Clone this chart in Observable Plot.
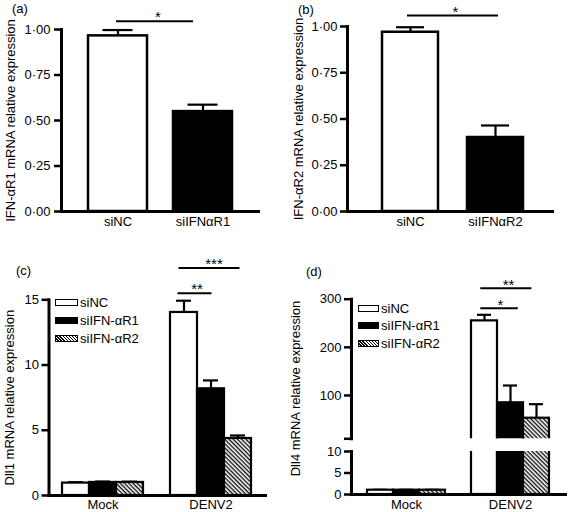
<!DOCTYPE html>
<html>
<head>
<meta charset="utf-8">
<script src="https://cdn.jsdelivr.net/npm/d3@7"></script>
<script src="https://cdn.jsdelivr.net/npm/@observablehq/plot@0.6"></script>
<style>
  html, body { margin: 0; padding: 0; background: #fff; }
  #fig { position: relative; width: 568px; height: 512px; overflow: hidden; background: #fff;
         font-family: "Liberation Sans", Arial, Helvetica, sans-serif; color: #000; }
  .plabel { position: absolute; font-size: 13px; line-height: 16px; }
  .lrow { position: absolute; height: 16px; display: flex; align-items: center; font-size: 13px; white-space: nowrap; }
  .sw { box-sizing: border-box; border: 1.5px solid #000; margin-right: 2px; }
</style>
</head>
<body>
<svg width="0" height="0" style="position:absolute">
  <defs>
    <pattern id="hatch" patternUnits="userSpaceOnUse" width="3" height="3" patternTransform="rotate(45)">
      <rect width="3" height="3" fill="white"></rect>
      <line x1="0" y1="0.7" x2="3" y2="0.7" stroke="black" stroke-width="1.3"></line>
    </pattern>
  </defs>
</svg>
<div id="fig"></div>
<script>
// ---------------- data ----------------
const groupsA = ["siNC", "siIFNαR1"];
const meanA = [0.965, 0.549];
const errA = [0.032, 0.038];

const groupsB = ["siNC", "siIFNαR2"];
const meanB = [0.969, 0.40];
const errB = [0.027, 0.065];

const conditions = ["Mock", "DENV2"];
const treatments = ["siNC", "siIFN-αR1", "siIFN-αR2"];

const dll1Mock = [0.95, 1.0, 1.0];
const dll1MockErr = [0.07, 0.07, 0.06];
const dll1Denv = [14.03, 8.18, 4.37];
const dll1DenvErr = [0.9, 0.64, 0.23];

const dll4Mock = [1.0, 1.0, 1.0];
const dll4MockErr = [0.1, 0.1, 0.1];
const dll4Denv = [255, 84.8, 52.8];
const dll4DenvErr = [12.6, 35.9, 29.1];

const ticksAB = [0, 0.25, 0.5, 0.75, 1];
const ticksC = [0, 5, 10, 15];
const ticksDUpper = [10, 100, 200, 300];
const ticksDLower = [0, 5, 10];

const sigA = [{from: "siNC", to: "siIFNαR1", y: 1.046, label: "*"}];
const sigB = [{from: "siNC", to: "siIFNαR2", y: 1.059, label: "*"}];
const sigC = [
  {from: "DENV2|siNC", to: "DENV2|siIFN-αR1", y: 15.51, label: "**"},
  {from: "DENV2|siNC", to: "DENV2|siIFN-αR2", y: 17.43, label: "***"}
];
const sigD = [
  {from: "DENV2|siNC", to: "DENV2|siIFN-αR1", y: 281.3, label: "*"},
  {from: "DENV2|siNC", to: "DENV2|siIFN-αR2", y: 322.8, label: "**"}
];

// ---------------- helpers ----------------
const fig = document.getElementById("fig");
const FONT = '"Liberation Sans", Arial, Helvetica, sans-serif';
const style = {background: "transparent", overflow: "visible", fontFamily: FONT, fontSize: "13px", color: "black"};
function place(el, left, top) {
  el.style.position = "absolute";
  el.style.left = left + "px";
  el.style.top = top + "px";
  fig.appendChild(el);
}
const dotFmt = d => d3.format(".2f")(d).replace(".", "·");

const rowsA = groupsA.map((g, i) => ({group: g, value: meanA[i], err: errA[i]}));
const rowsB = groupsB.map((g, i) => ({group: g, value: meanB[i], err: errB[i]}));

const slotDomain = [];
conditions.forEach((c, ci) => {
  if (ci > 0) slotDomain.push("·gap·");
  treatments.forEach(t => slotDomain.push(c + "|" + t));
});
function groupedRows(mock, mockErr, denv, denvErr) {
  const rows = [];
  conditions.forEach((c, ci) => treatments.forEach((t, ti) => rows.push({
    slot: c + "|" + t, condition: c, treatment: t,
    value: ci === 0 ? mock[ti] : denv[ti],
    err: ci === 0 ? mockErr[ti] : denvErr[ti]
  })));
  return rows;
}
const rowsC = groupedRows(dll1Mock, dll1MockErr, dll1Denv, dll1DenvErr);
const rowsD = groupedRows(dll4Mock, dll4MockErr, dll4Denv, dll4DenvErr);
const midTicks = conditions.map(c => c + "|" + treatments[1]);

const colorSimple = (dom) => ({type: "ordinal", domain: dom, range: ["white", "black"]});
const colorGrouped = {type: "ordinal", domain: treatments, range: ["white", "black", "url(#hatch)"]};

function errMarks(rows, xKey, inset, opts = {}) {
  return [
    Plot.ruleX(rows, {x: xKey, y1: "value", y2: d => d.value + d.err, strokeWidth: 2.2, ...opts}),
    Plot.tickY(rows, {x: xKey, y: d => d.value + d.err, insetLeft: inset, insetRight: inset, strokeWidth: 2.2, ...opts})
  ];
}
function sigMarks(sig, insetLeft, insetRight, dx) {
  return [
    Plot.ruleY(sig, {x1: "from", x2: "to", y: "y", insetLeft, insetRight, strokeWidth: 2}),
    Plot.text(sig, {x: "from", y: "y", text: "label", dx, dy: -3.5, fontSize: 15})
  ];
}

// ---------------- panel (a) ----------------
const plotA = Plot.plot({
  width: 284, height: 240,
  marginLeft: 61, marginRight: 26, marginTop: 29, marginBottom: 29,
  style,
  x: {domain: groupsA, paddingInner: 0.306, paddingOuter: 0.306, label: null},
  y: {domain: [0, 1], label: null},
  color: colorSimple(groupsA),
  marks: [
    Plot.axisY({ticks: ticksAB, tickFormat: dotFmt, tickSize: 7, tickPadding: 4, strokeWidth: 2.5,
      label: "IFN-αR1 mRNA relative expression", labelAnchor: "center", labelOffset: 56, labelArrow: false}),
    Plot.axisX({tickSize: 0, tickPadding: 5, label: null}),
    ...errMarks(rowsA, "group", 14.5),
    Plot.barY(rowsA, {x: "group", y: "value", fill: "group", stroke: "black", strokeWidth: 2.5}),
    Plot.frame({anchor: "left", strokeWidth: 3}),
    Plot.frame({anchor: "bottom", strokeWidth: 3}),
    ...sigMarks(sigA, 28, 39, 40)
  ]
});
place(plotA, 0, 0);

// ---------------- panel (b) ----------------
const plotB = Plot.plot({
  width: 284, height: 240,
  marginLeft: 63, marginRight: 16, marginTop: 26, marginBottom: 29,
  style,
  x: {domain: groupsB, paddingInner: 0.34, paddingOuter: 0.37, align: 0.55, label: null},
  y: {domain: [0, 1], label: null},
  color: colorSimple(groupsB),
  marks: [
    Plot.axisY({ticks: ticksAB, tickFormat: dotFmt, tickSize: 7, tickPadding: 3, strokeWidth: 2.5,
      label: "IFN-αR2 mRNA relative expression", labelAnchor: "center", labelOffset: 54, labelArrow: false}),
    Plot.axisX({tickSize: 0, tickPadding: 5, label: null}),
    ...errMarks(rowsB, "group", 14),
    Plot.barY(rowsB, {x: "group", y: "value", fill: "group", stroke: "black", strokeWidth: 2.5}),
    Plot.frame({anchor: "left", strokeWidth: 3}),
    Plot.frame({anchor: "bottom", strokeWidth: 3}),
    ...sigMarks(sigB, 25, 25, 45)
  ]
});
place(plotB, 284, 0);

// ---------------- panel (c) ----------------
const plotC = Plot.plot({
  width: 284, height: 256,
  marginLeft: 48.5, marginRight: 19, marginTop: 43.3, marginBottom: 17,
  style,
  x: {domain: slotDomain, paddingInner: 0, paddingOuter: 0.5, label: null},
  y: {domain: [0, 15], label: null},
  color: colorGrouped,
  marks: [
    Plot.axisY({ticks: ticksC, tickSize: 7, tickPadding: 3, strokeWidth: 2.5,
      label: "Dll1 mRNA relative expression", labelAnchor: "center", labelOffset: 44, labelArrow: false}),
    Plot.axisX({ticks: midTicks, tickFormat: d => d.split("|")[0], tickSize: 0, tickPadding: 4.5, label: null}),
    ...errMarks(rowsC, "slot", 6),
    Plot.barY(rowsC, {x: "slot", y: "value", fill: "treatment", stroke: "black", strokeWidth: 2.2}),
    Plot.frame({anchor: "left", strokeWidth: 3}),
    Plot.frame({anchor: "bottom", strokeWidth: 3}),
    ...sigMarks([sigC[0]], 7.5, 12.5, 13),
    ...sigMarks([sigC[1]], 8.5, 11.5, 30)
  ]
});
place(plotC, 0, 256);

// ---------------- panel (d): broken axis, upper segment ----------------
const upperRowsD = rowsD.filter(d => d.value >= 10);
const plotDUpper = Plot.plot({
  width: 284, height: 256,
  marginLeft: 67, marginRight: 3, marginTop: 42.7, marginBottom: 73.7,
  style,
  x: {domain: slotDomain, paddingInner: 0, paddingOuter: 0.5, label: null, axis: null},
  y: {domain: [10, 300], label: null},
  color: colorGrouped,
  marks: [
    Plot.axisY({ticks: ticksDUpper, tickFormat: d => d === 10 ? "" : String(d), tickSize: 7, tickPadding: 3, strokeWidth: 2.5, label: null}),
    ...errMarks(upperRowsD, "slot", 6),
    Plot.barY(upperRowsD, {x: "slot", y1: 0, y2: "value", fill: "treatment", stroke: "black", strokeWidth: 2.2, clip: true}),
    Plot.frame({anchor: "left", strokeWidth: 3}),
    ...sigMarks([sigD[0]], 9.3, 5.2, 16),
    ...sigMarks([sigD[1]], 9.3, 17.6, 24),
    Plot.text(["Dll4 mRNA relative expression"], {frameAnchor: "left", textAnchor: "middle", rotate: -90, lineAnchor: "top", dx: -60.5, dy: 19.5, fontSize: 13})
  ]
});
place(plotDUpper, 284, 256);

// ---------------- panel (d): lower segment ----------------
const lowerErrRowsD = rowsD.filter(d => d.value + d.err <= 10);
const plotDLower = Plot.plot({
  width: 284, height: 72,
  marginLeft: 67, marginRight: 3, marginTop: 11, marginBottom: 18,
  style,
  x: {domain: slotDomain, paddingInner: 0, paddingOuter: 0.5, label: null},
  y: {domain: [0, 10], label: null},
  color: colorGrouped,
  marks: [
    Plot.axisY({ticks: ticksDLower, tickSize: 7, tickPadding: 3, strokeWidth: 2.5, label: null}),
    Plot.axisX({ticks: midTicks, tickFormat: d => d.split("|")[0], tickSize: 0, tickPadding: 5.5, label: null}),
    ...errMarks(lowerErrRowsD, "slot", 6),
    Plot.barY(rowsD, {x: "slot", y: "value", fill: "treatment", stroke: "black", strokeWidth: 2.2, clip: true}),
    Plot.frame({anchor: "left", strokeWidth: 3}),
    Plot.frame({anchor: "bottom", strokeWidth: 3})
  ]
});
place(plotDLower, 284, 440);

// ---------------- panel letters ----------------
[["(a)", 12, 1], ["(b)", 298, 2], ["(c)", 16, 263], ["(d)", 306, 264]].forEach(([t, x, y]) => {
  const d = document.createElement("div");
  d.className = "plabel";
  d.textContent = t;
  place(d, x, y);
});

// ---------------- legends ----------------
const swFill = {"siNC": "white", "siIFN-αR1": "black",
  "siIFN-αR2": "repeating-linear-gradient(45deg, #fff 0px, #fff 1.2px, #000 1.2px, #000 2.2px)"};
function legend(left, centers, swW, swH) {
  treatments.forEach((t, i) => {
    const row = document.createElement("div");
    row.className = "lrow";
    const sw = document.createElement("div");
    sw.className = "sw";
    sw.style.width = swW + "px";
    sw.style.height = swH + "px";
    sw.style.background = swFill[t];
    const lab = document.createElement("span");
    lab.textContent = t;
    row.appendChild(sw);
    row.appendChild(lab);
    place(row, left, centers[i] - 8);
  });
}
legend(55, [302, 320, 338], 23, 7);
legend(357.5, [308, 325.5, 343], 21.5, 7);
</script>
</body>
</html>
